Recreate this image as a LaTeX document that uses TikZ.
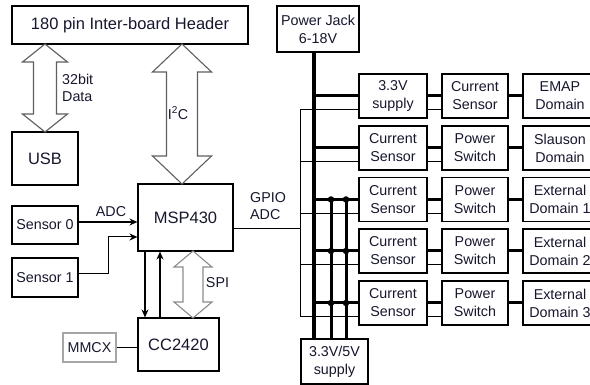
\documentclass[tikz,border=0pt]{standalone}
\usepackage{fontspec}
\setmainfont{Liberation Sans}
\usetikzlibrary{arrows.meta}
\definecolor{txt}{RGB}{22,22,45}
\definecolor{arrgray}{RGB}{95,95,95}
\definecolor{spigray}{RGB}{140,140,140}
\tikzset{
  box/.style={draw=black, line width=1.1pt, rectangle, inner sep=0pt, align=center, text=txt},
  bigtxt/.style={font=\fontsize{16.5}{19}\selectfont},
  smalltxt/.style={font=\fontsize{14.3}{18}\selectfont},
  lbl/.style={text=txt, inner sep=0pt, font=\fontsize{14.3}{17}\selectfont},
  bus/.style={line width=3pt},
  mainbus/.style={line width=3.6pt},
  thinl/.style={line width=1pt},
  sig/.style={line width=1.6pt, -{Stealth[length=8pt,width=7pt]}},
  sigthin/.style={line width=1pt, -{Stealth[length=8pt,width=7pt]}},
  fatarrow/.style={draw=#1, fill=white, line width=1.1pt, line join=miter},
  dot/.style={circle, fill=black, inner sep=0pt, minimum size=6.5pt},
}
\begin{document}
\begin{tikzpicture}[x=1pt,y=-1pt]
\useasboundingbox (0,0) rectangle (590,385);
\clip (0,0) rectangle (590,385);
% left side boxes
\node[box,bigtxt,minimum width=236pt,minimum height=38pt] (hdr) at (130,25) {180 pin Inter-board Header};
\node[box,bigtxt,minimum width=66pt,minimum height=53pt] (usb) at (45,158.5) {USB};
\node[box,bigtxt,minimum width=95pt,minimum height=67pt] (msp) at (185.5,217.5) {MSP430};
\node[box,smalltxt,minimum width=66pt,minimum height=38pt] (s0) at (45,225) {Sensor 0};
\node[box,smalltxt,minimum width=66pt,minimum height=39pt] (s1) at (45,277.5) {Sensor 1};
\node[box,bigtxt,minimum width=81pt,minimum height=53pt] (cc) at (178.5,344.5) {CC2420};
\node[box,smalltxt,draw=gray!70,minimum width=53pt,minimum height=29pt] (mmcx) at (89.5,347.5) {MMCX};
% fat double arrows
\draw[fatarrow=arrgray] (45,44) -- (67.5,62) -- (56.5,62) -- (56.5,114) -- (67.5,114) -- (45,132)
  -- (22.5,114) -- (33.5,114) -- (33.5,62) -- (22.5,62) -- cycle;
\draw[fatarrow=arrgray] (182,44) -- (211.5,72) -- (197.5,72) -- (197.5,156) -- (211.5,156) -- (182,184)
  -- (152.5,156) -- (166.5,156) -- (166.5,72) -- (152.5,72) -- cycle;
\draw[fatarrow=spigray] (193,251) -- (212,267) -- (203,267) -- (203,302) -- (212,302) -- (193,318)
  -- (174,302) -- (183,302) -- (183,267) -- (174,267) -- cycle;
\node[lbl,anchor=west,align=left] (d32) at (62,88) {32bit\\Data};
\node[lbl] (i2c) at (178,113) {I\textsuperscript{2}C};
\node[lbl] (spi) at (217.5,283) {SPI};
% signal arrows
\draw[sig] ([yshift=3pt]s0.east) -- ([yshift=3pt]s0.east -| msp.west);
\node[lbl] (adc) at (111,212) {ADC};
\coordinate (s1bend) at (108,237);
\draw[sigthin] ([yshift=4pt]s1.east) -| (s1bend) -- (s1bend -| msp.west);
\coordinate (dnx) at (145,0);
\coordinate (upx) at (160,0);
\draw[sig] (msp.south -| dnx) -- (cc.north -| dnx);
\draw[sig] (cc.north -| upx) -- (msp.south -| upx);
\draw[thinl] (mmcx.east) -- (mmcx.east -| cc.west);
% right side
\node[box,smalltxt,minimum width=82pt,minimum height=46pt] (pj) at (318,29) {Power Jack\\6-18V};
\node[box,smalltxt,minimum width=67pt,minimum height=45pt] (sup5) at (334.5,361.5) {3.3V/5V\\supply};
\foreach \r/\y/\a/\b/\c in {1/96/{3.3V\\supply}/{Current\\Sensor}/{EMAP\\Domain},
  2/148/{Current\\Sensor}/{Power\\Switch}/{Slauson\\Domain},
  3/199.5/{Current\\Sensor}/{Power\\Switch}/{External\\Domain 1},
  4/251/{Current\\Sensor}/{Power\\Switch}/{External\\Domain 2},
  5/303/{Current\\Sensor}/{Power\\Switch}/{External\\Domain 3}}{
  \node[box,smalltxt,minimum width=68pt,minimum height=44pt] (a\r) at (393,\y) {\a};
  \node[box,smalltxt,minimum width=66pt,minimum height=44pt] (b\r) at (475,\y) {\b};
  \node[box,smalltxt,minimum width=74pt,minimum height=44pt] (c\r) at (560,\y) {\c};
}
\coordinate (busx) at (314,0);
\coordinate (tapx) at (300,0);
\coordinate (v1x) at (331,0);
\coordinate (v2x) at (346,0);
\draw[mainbus] (pj.south -| busx) -- (sup5.north -| busx);
\foreach \r in {1,...,5}{
  \draw[bus] (a\r.west -| busx) -- (a\r.west);
  \draw[bus] (a\r.east) -- (b\r.west);
  \draw[bus] (b\r.east) -- (c\r.west);
  \draw[thinl] ([yshift=-14pt]a\r.west -| tapx) -- ([yshift=-14pt]a\r.west);
  \draw[thinl] ([yshift=-14pt]a\r.east) -- ([yshift=-14pt]b\r.west);
}
\draw[thinl] ([yshift=-14pt]a1.west -| tapx) -- ([yshift=-14pt]a5.west -| tapx);
\draw[thinl] ([yshift=-11pt]msp.east) -- ([yshift=-11pt]msp.east -| tapx);
\node[lbl,anchor=west,align=left] (gpio) at (250,206) {GPIO\\ADC};
\draw[bus] (a3.west -| v1x) -- (sup5.north -| v1x);
\draw[bus] (a3.west -| v2x) -- (sup5.north -| v2x);
\foreach \r in {3,4,5}{
  \node[dot] (p\r) at (a\r.west -| v1x) {};
  \node[dot] (q\r) at (a\r.west -| v2x) {};
}
\end{tikzpicture}
\end{document}
